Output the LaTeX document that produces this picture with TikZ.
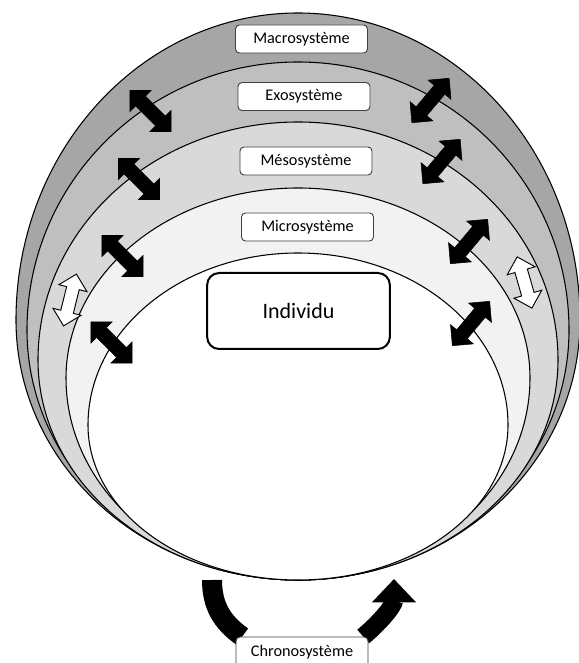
\documentclass[tikz,border=0pt]{standalone}
\usepackage{fontspec}
\setmainfont{Carlito}
\usetikzlibrary{shapes.arrows, arrows.meta, positioning, backgrounds}
\definecolor{macrogray}{HTML}{A6A6A6}
\definecolor{exogray}{HTML}{BFBFBF}
\definecolor{mesogray}{HTML}{D9D9D9}
\definecolor{microgray}{HTML}{F2F2F2}
\definecolor{labelline}{HTML}{404040}
\tikzset{
    layer/.style={draw=black, line width=0.8pt},
    levelbox/.style={
        rectangle, rounded corners=3pt, draw=labelline, line width=0.7pt,
        minimum width=99pt, minimum height=21pt, inner sep=0pt,
        fill=white, font=\fontsize{12.2}{14}\selectfont
    },
    selfbox/.style={
        rectangle, rounded corners=9pt, draw=black, line width=1.5pt,
        minimum width=137pt, minimum height=57pt,
        fill=white, font=\fontsize{16.5}{19}\selectfont
    },
    link/.style={
        double arrow, draw=black, fill=black, inner sep=5pt,
        double arrow head extend=6pt,
        minimum height=43.5pt
    },
    openlink/.style={
        double arrow, draw=black, line width=0.7pt, fill=white, inner sep=4.5pt,
        double arrow head extend=6pt,
        minimum height=40pt
    },
    timeline/.style={draw=black, line width=15pt},
    timearrow/.style={draw=black, line width=13.5pt, -{Triangle[width=32pt, length=17.5pt]}}
}
\begin{document}
\begin{tikzpicture}[x=0.75pt, y=0.75pt]
\useasboundingbox (0,0) rectangle (578,663);

% Nested systems
\draw[layer, fill=macrogray] (16,343) arc[start angle=180, end angle=0, x radius=282, y radius=307]
    arc[start angle=0, end angle=-180, x radius=282, y radius=260] -- cycle;
\draw[layer, fill=exogray] (27,333) arc[start angle=180, end angle=0, x radius=271, y radius=268]
    arc[start angle=0, end angle=-180, x radius=271, y radius=250] -- cycle;
\draw[layer, fill=mesogray] (38,303) arc[start angle=180, end angle=0, x radius=260, y radius=238]
    arc[start angle=0, end angle=-180, x radius=260, y radius=220] -- cycle;
\draw[layer, fill=microgray] (66,285) arc[start angle=180, end angle=0, x radius=232, y radius=190]
    arc[start angle=0, end angle=-180, x radius=232, y radius=202] -- cycle;
\draw[layer, fill=white] (88,238) arc[start angle=180, end angle=0, x radius=210, y radius=172]
    arc[start angle=0, end angle=-180, x radius=210, y radius=155] -- cycle;

% Labels
\node[levelbox] (macro) at (301.5,624) {Macrosystème};
\node[levelbox] (exo) at (304,566.5) {Exosystème};
\node[levelbox] (meso) at (306,502) {Mésosystème};
\node[levelbox] (micro) at (307.5,436) {Microsystème};
\node[selfbox] (individu) at (298.5,352) {Individu};
\node[levelbox, minimum height=22.5pt] (chrono) at (302,11) {Chronosystème};

% Interactions between levels
\node[link, rotate=-45] (exo_left) at (150.5,552) {};
\node[link, rotate=50] (exo_right) at (430.5,562.5) {};
\node[link, rotate=-45] (meso_left) at (139,484) {};
\node[link, rotate=50] (meso_right) at (441.5,501.5) {};
\node[link, rotate=-45] (micro_left) at (122.5,407) {};
\node[link, rotate=50] (micro_right) at (469,421.5) {};
\node[link, rotate=-45] (self_left) at (111.5,320.5) {};
\node[link, rotate=50] (self_right) at (471,339.5) {};
\node[openlink, rotate=76] (open_left) at (70,363) {};
\node[openlink, rotate=106] (open_right) at (524.5,380.5) {};

% Time
\coordinate (time_start) at (212,83);
\coordinate (time_tip) at (394,84);
\begin{scope}[on background layer]
\draw[timeline] (time_start) to[out=-90, in=145] ([xshift=5pt]chrono.north west);
\draw[timearrow] ([xshift=-4pt]chrono.north east) to[out=40, in=-90] (time_tip);
\end{scope}

\end{tikzpicture}
\end{document}
